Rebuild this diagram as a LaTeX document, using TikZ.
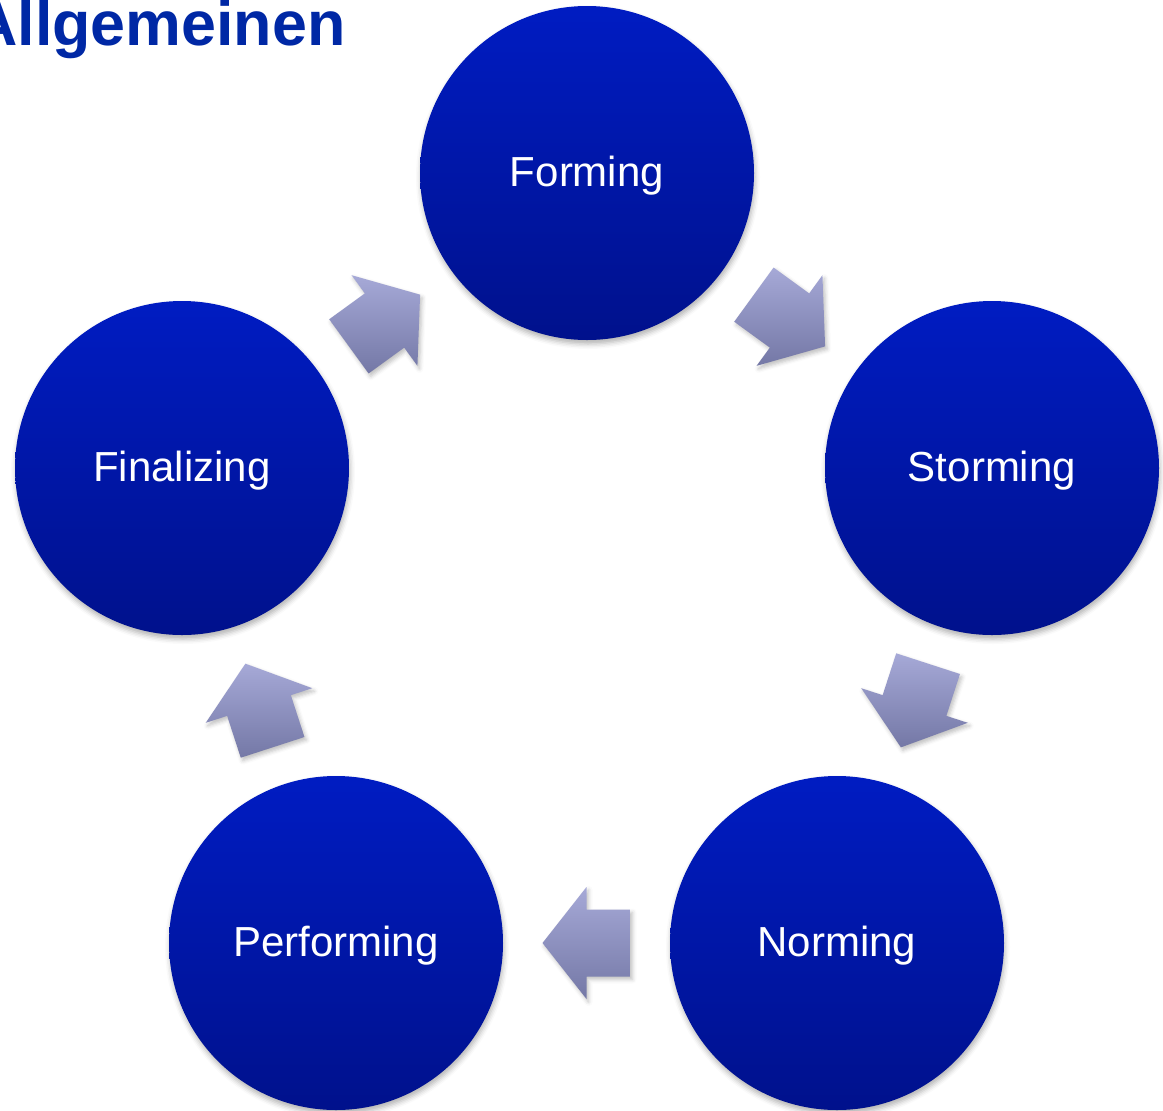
\documentclass[tikz,border=0pt]{standalone}
\usepackage{fontspec}
\setmainfont{Liberation Sans}
\usetikzlibrary{shadows.blur,calc}

\definecolor{circtop}{RGB}{0,28,194}
\definecolor{circbot}{RGB}{0,17,140}
\definecolor{arrtop}{RGB}{166,169,215}
\definecolor{arrbot}{RGB}{116,120,166}
\definecolor{titleblue}{RGB}{0,40,165}

\tikzset{
	phase/.style={circle, minimum size=167pt, inner sep=0pt, text height=17.6pt, text depth=4pt, top color=circtop, bottom color=circbot, text=white, font=\fontsize{21}{25}\selectfont, blur shadow={shadow xshift=0.5pt, shadow yshift=-2pt, shadow blur radius=2.5pt, shadow opacity=30}},
	flow/.style={top color=arrtop, bottom color=arrbot, blur shadow={shadow xshift=1pt, shadow yshift=-1.5pt, shadow blur radius=2pt, shadow opacity=25}},
}

\begin{document}
\begin{tikzpicture}[x=0.5pt,y=-0.5pt]
	\clip (0,0) rectangle (1163,1110);
	%heading-------------------------------------
	\node[anchor=base east, font=\bfseries\fontsize{31.4}{36}\selectfont, text=titleblue, inner sep=0pt] (heading) at (346,45) {Allgemeinen};
	%phases--------------------------------------
	\node[phase] (forming) at (587,173) {Forming};
	\node[phase] (storming) at (992,468) {Storming};
	\node[phase] (norming) at (837,943) {Norming};
	\node[phase] (performing) at (336,943) {Performing};
	\node[phase] (finalizing) at (182,468) {Finalizing};
	%block arrows between phases-----------------
	\path[flow, shift={($(forming)!0.5!(storming)$)}, rotate=-36] (-44,-33.5) -- (0,-33.5) -- (0,-56) -- (44,0) -- (0,56) -- (0,33.5) -- (-44,33.5) -- cycle; %forming to storming
	\path[flow, shift={($(storming)!0.5!(norming)$)}, rotate=-108] (-44,-33.5) -- (0,-33.5) -- (0,-56) -- (44,0) -- (0,56) -- (0,33.5) -- (-44,33.5) -- cycle; %storming to norming
	\path[flow, shift={($(norming)!0.5!(performing)$)}, rotate=180] (-44,-33.5) -- (0,-33.5) -- (0,-56) -- (44,0) -- (0,56) -- (0,33.5) -- (-44,33.5) -- cycle; %norming to performing
	\path[flow, shift={($(performing)!0.5!(finalizing)$)}, rotate=108] (-44,-33.5) -- (0,-33.5) -- (0,-56) -- (44,0) -- (0,56) -- (0,33.5) -- (-44,33.5) -- cycle; %performing to finalizing
	\path[flow, shift={($(finalizing)!0.5!(forming)$)}, rotate=36] (-44,-33.5) -- (0,-33.5) -- (0,-56) -- (44,0) -- (0,56) -- (0,33.5) -- (-44,33.5) -- cycle; %finalizing to forming
\end{tikzpicture}
\end{document}
